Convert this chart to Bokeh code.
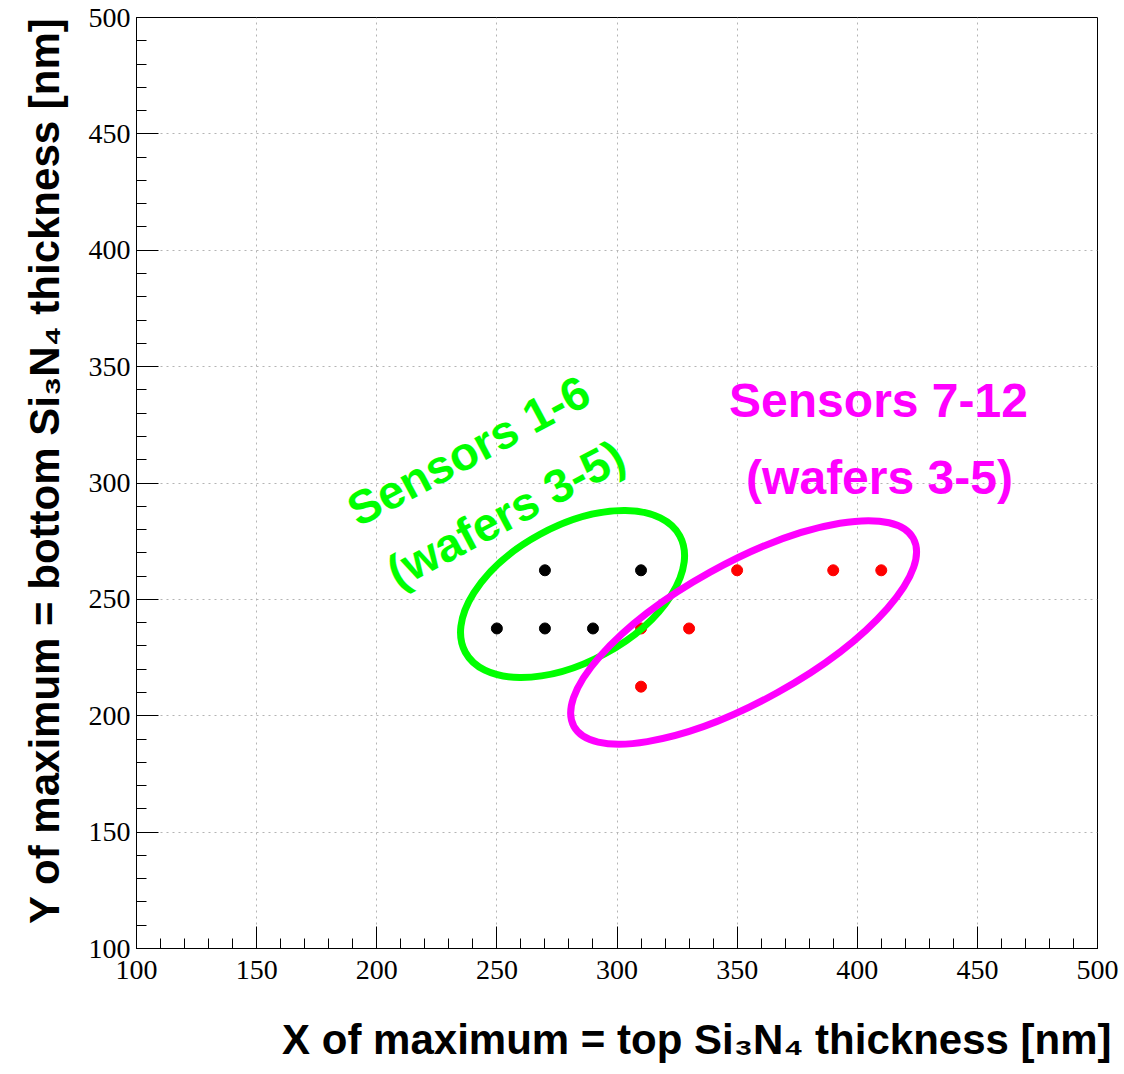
import math
from bokeh.plotting import figure
from bokeh.models import Range1d, SingleIntervalTicker, Label, Title
from bokeh.embed import file_html
from bokeh.resources import INLINE

# ---- data ----
black_x = [250, 270, 290, 270, 310]
black_y = [237.5, 237.5, 237.5, 262.5, 262.5]
red_x = [310, 330, 350, 390, 410, 310]
red_y = [237.5, 237.5, 262.5, 262.5, 262.5, 212.5]

group_labels = ["Sensors 1-6", "Sensors 7-12"]
group_sub = ["(wafers 3-5)", "(wafers 3-5)"]
group_cx = [281.5, 352.7]
group_cy = [252.3, 235.8]

x_title = "X of maximum = top Si\u2083N\u2084 thickness [nm]"
y_title = "Y of maximum = bottom Si\u2083N\u2084 thickness [nm]"

X0, X1, Y0, Y1 = 100, 500, 100, 500

# ---- layout ----
L, T, FW, FH = 136, 17, 961, 931
R, B = 27, 126


def px_x(px):
    return X0 + (px - L) * (X1 - X0) / FW


def px_y(py):
    return Y0 + (T + FH - py) * (Y1 - Y0) / FH


p = figure(frame_width=FW, frame_height=FH, x_range=Range1d(X0, X1), y_range=Range1d(Y0, Y1),
           output_backend="svg", toolbar_location=None, title=None,
           min_border_left=L, min_border_right=R, min_border_top=T, min_border_bottom=B)
p.background_fill_color = "white"
p.border_fill_color = "white"
p.outline_line_color = "black"
p.outline_line_width = 1

xt = SingleIntervalTicker(interval=50, num_minor_ticks=5)
yt = SingleIntervalTicker(interval=50, num_minor_ticks=5)
p.xaxis.ticker = xt
p.yaxis.ticker = yt
p.xgrid.ticker = xt
p.ygrid.ticker = yt
for g in (p.xgrid, p.ygrid):
    g.grid_line_color = "#b4b4b4"
    g.grid_line_dash = "2 4"
    g.grid_line_width = 1
for ax in (p.xaxis, p.yaxis):
    ax.axis_line_color = "black"
    ax.major_tick_line_color = "black"
    ax.minor_tick_line_color = "black"
    ax.major_tick_in = 22
    ax.major_tick_out = 0
    ax.minor_tick_in = 10
    ax.minor_tick_out = 0
    ax.major_label_text_font = "Liberation Serif"
    ax.major_label_text_font_size = "28px"
    ax.major_label_text_color = "black"
    ax.axis_label = None
p.xaxis.major_label_standoff = 12
p.yaxis.major_label_standoff = 6

# points
p.scatter(black_x, black_y, size=11, color="black")
p.scatter(red_x, red_y, size=11, color="#ff0000")

# ellipses
p.ellipse(x=[group_cx[0]], y=[group_cy[0]], width=[244], height=[136], angle=math.radians(28.5),
          width_units="screen", height_units="screen", fill_color=None,
          line_color="#00ff00", line_width=7)
p.ellipse(x=[group_cx[1]], y=[group_cy[1]], width=[388], height=[138], angle=math.radians(29),
          width_units="screen", height_units="screen", fill_color=None,
          line_color="#ff00ff", line_width=7)

SANS = "Liberation Sans"
# group labels
ang = math.radians(28)
for txt, (cx, cy) in [(group_labels[0], (468, 450)), (group_sub[0], (505, 513))]:
    p.add_layout(Label(x=px_x(cx), y=px_y(cy), text=txt, angle=ang, text_align="center",
                       text_baseline="middle", text_font=SANS, text_font_style="bold",
                       text_font_size="47px", text_color="#00ff00"))
for txt, (cx, cy) in [(group_labels[1], (878, 400)), (group_sub[1], (879, 477))]:
    p.add_layout(Label(x=px_x(cx), y=px_y(cy), text=txt, text_align="center",
                       text_baseline="middle", text_font=SANS, text_font_style="bold",
                       text_font_size="48px", text_color="#ff00ff"))

# axis titles
p.add_layout(Title(text=x_title, align="right", text_font=SANS, text_font_style="bold",
                   text_font_size="42px", text_color="black", standoff=64, offset=-14), "below")
p.add_layout(Title(text=y_title, align="right", text_font=SANS, text_font_style="bold",
                   text_font_size="42px", text_color="black", standoff=36), "left")

open("out.html", "w").write(file_html(p, INLINE))
